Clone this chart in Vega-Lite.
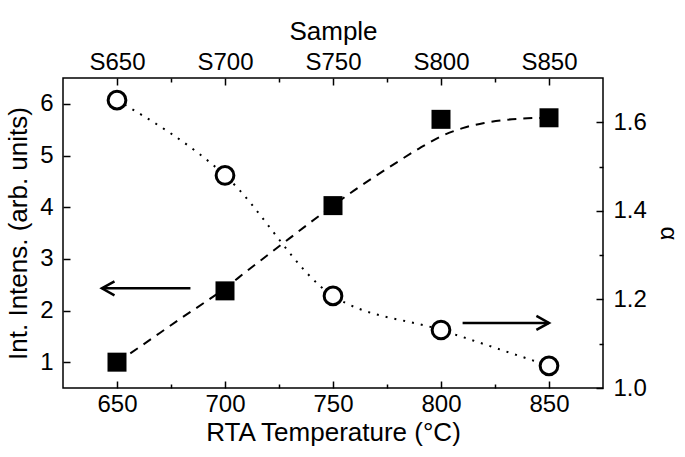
{
  "$schema": "https://vega.github.io/schema/vega-lite/v6.json",
  "width": 540,
  "height": 310,
  "autosize": {"type": "none"},
  "padding": {"left": 63, "top": 78, "right": 82, "bottom": 69},
  "background": "white",
  "config": {
    "view": {"stroke": "black", "strokeWidth": 1.5},
    "font": "Liberation Sans",
    "axis": {
      "domain": false, "grid": false,
      "labelFont": "Liberation Sans", "labelFontSize": 24, "labelColor": "black",
      "titleFont": "Liberation Sans", "titleFontSize": 26, "titleFontWeight": "normal", "titleColor": "black",
      "tickColor": "black", "tickWidth": 1.5,
      "labelFlush": false, "labelOverlap": false, "labelBound": false
    }
  },
  "datasets": {
    "squares": [
      {"t": 650, "v": 1.0},
      {"t": 700, "v": 2.38},
      {"t": 750, "v": 4.03},
      {"t": 800, "v": 5.7},
      {"t": 850, "v": 5.73}
    ],
    "fit": [
      {"t": 650, "v": 1.0},
      {"t": 660, "v": 1.28},
      {"t": 670, "v": 1.57},
      {"t": 680, "v": 1.86},
      {"t": 690, "v": 2.14},
      {"t": 700, "v": 2.43},
      {"t": 710, "v": 2.76},
      {"t": 720, "v": 3.08},
      {"t": 730, "v": 3.4},
      {"t": 740, "v": 3.72},
      {"t": 750, "v": 4.03},
      {"t": 760, "v": 4.33},
      {"t": 770, "v": 4.61},
      {"t": 780, "v": 4.88},
      {"t": 790, "v": 5.14},
      {"t": 800, "v": 5.37},
      {"t": 810, "v": 5.53},
      {"t": 820, "v": 5.63},
      {"t": 830, "v": 5.69},
      {"t": 840, "v": 5.72},
      {"t": 850, "v": 5.73}
    ],
    "circles": [
      {"t": 650, "a": 1.65},
      {"t": 700, "a": 1.48},
      {"t": 750, "a": 1.208},
      {"t": 800, "a": 1.131},
      {"t": 850, "a": 1.05}
    ]
  },
  "layer": [
    {
      "encoding": {
        "x": {
          "field": "t", "type": "quantitative",
          "scale": {"domain": [625, 875], "nice": false, "zero": false},
          "axis": {
            "orient": "bottom",
            "title": "RTA Temperature (°C)",
            "values": [650, 675, 700, 725, 750, 775, 800, 825, 850],
            "labelExpr": "datum.value % 50 === 0 ? datum.label : ''",
            "tickSize": {"condition": {"test": "datum.value % 50 === 0", "value": -7}, "value": -4},
            "labelPadding": 11,
            "titlePadding": 0
          }
        },
        "y": {
          "field": "v", "type": "quantitative",
          "scale": {"domain": [0.5, 6.5], "nice": false, "zero": false},
          "axis": {
            "orient": "left",
            "title": "Int. Intens. (arb. units)",
            "values": [1, 1.5, 2, 2.5, 3, 3.5, 4, 4.5, 5, 5.5, 6],
            "format": "d",
            "labelExpr": "datum.value % 1 === 0 ? datum.label : ''",
            "tickSize": {"condition": {"test": "datum.value % 1 === 0", "value": -7}, "value": -4},
            "labelPadding": 17,
            "titlePadding": 8
          }
        }
      },
      "layer": [
        {"data": {"name": "fit"}, "mark": {"type": "line", "color": "black", "strokeWidth": 2, "strokeDash": [9, 7], "interpolate": "monotone"}},
        {"data": {"values": [{"t": 643, "t2": 684, "v": 2.43}]}, "mark": {"type": "rule", "color": "black", "strokeWidth": 2.5}, "encoding": {"x2": {"field": "t2"}}},
        {"data": {"values": [{"t": 643, "v": 2.43}]}, "mark": {"type": "point", "shape": "M1.8,-1L0,0L1.8,1", "size": 196, "filled": false, "stroke": "black", "strokeWidth": 2.5, "opacity": 1}},
        {"data": {"name": "squares"}, "mark": {"type": "square", "color": "black", "size": 361, "opacity": 1}}
      ]
    },
    {
      "encoding": {
        "x": {
          "field": "t", "type": "quantitative",
          "scale": {"domain": [625, 875], "nice": false, "zero": false},
          "axis": {
            "orient": "top",
            "title": "Sample",
            "values": [650, 675, 700, 725, 750, 775, 800, 825, 850],
            "labelExpr": "datum.value % 50 === 0 ? 'S' + datum.value : ''",
            "tickSize": {"condition": {"test": "datum.value % 50 === 0", "value": -7}, "value": -4},
            "labelPadding": 11,
            "titlePadding": 3
          }
        },
        "y": {
          "field": "a", "type": "quantitative",
          "scale": {"domain": [1.0, 1.7], "nice": false, "zero": false},
          "axis": {
            "orient": "right",
            "title": "α",
            "titleFontSize": 24,
            "values": [1.0, 1.1, 1.2, 1.3, 1.4, 1.5, 1.6],
            "format": ".1f",
            "labelExpr": "round(datum.value * 10) % 2 === 0 ? datum.label : ''",
            "tickSize": {"condition": {"test": "round(datum.value * 10) % 2 === 0", "value": -7}, "value": -4},
            "labelPadding": 17,
            "titlePadding": 9
          }
        }
      },
      "layer": [
        {"data": {"name": "circles"}, "mark": {"type": "line", "color": "black", "strokeWidth": 2, "strokeDash": [2, 7], "interpolate": "monotone"}},
        {"data": {"values": [{"t": 850, "t2": 810, "a": 1.147}]}, "mark": {"type": "rule", "color": "black", "strokeWidth": 2.5}, "encoding": {"x2": {"field": "t2"}}},
        {"data": {"values": [{"t": 850, "a": 1.147}]}, "mark": {"type": "point", "shape": "M-1.8,-1L0,0L-1.8,1", "size": 196, "filled": false, "stroke": "black", "strokeWidth": 2.5, "opacity": 1}},
        {"data": {"name": "circles"}, "mark": {"type": "point", "shape": "circle", "fill": "white", "stroke": "black", "strokeWidth": 3, "size": 314, "opacity": 1}}
      ]
    }
  ],
  "resolve": {"scale": {"y": "independent"}, "axis": {"x": "independent", "y": "independent"}}
}
